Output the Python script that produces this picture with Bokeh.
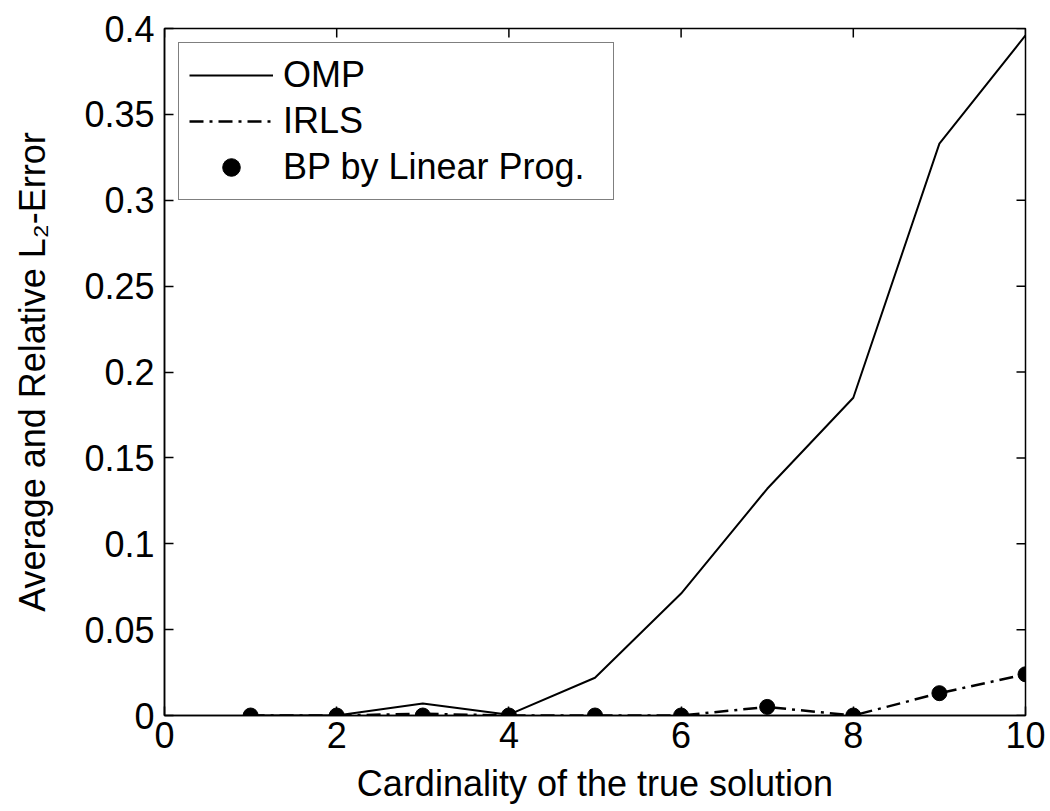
from bokeh.plotting import figure
from bokeh.models import FixedTicker, CustomJSTickFormatter, Range1d, Legend, LegendItem
from bokeh.embed import file_html
from bokeh.resources import INLINE

cardinality = [1, 2, 3, 4, 5, 6, 7, 8, 9, 10]
omp = [0.0, 0.0, 0.007, 0.0005, 0.022, 0.071, 0.132, 0.185, 0.333, 0.396]
irls = [0.0, 0.0, 0.001, 0.0, 0.0, 0.0, 0.005, 0.0, 0.013, 0.024]
bp = [0.0, 0.0, 0.0, 0.0, 0.0, 0.0, 0.005, 0.0, 0.013, 0.024]
x_ticks = [0, 2, 4, 6, 8, 10]
y_ticks = [0, 0.05, 0.1, 0.15, 0.2, 0.25, 0.3, 0.35, 0.4]

FONT = "Liberation Sans"
FS = "36px"
W, H = 1050, 811
BL, BR, BT, BB = 164, 25, 28, 96
X0, X1, Y0, Y1 = 0, 10, 0, 0.4
TICK = 9

p = figure(width=W, height=H, output_backend="svg", toolbar_location=None,
           x_range=Range1d(X0, X1), y_range=Range1d(Y0, Y1),
           min_border_left=BL, min_border_right=BR, min_border_top=BT, min_border_bottom=BB)
p.xgrid.visible = False
p.ygrid.visible = False
p.outline_line_color = "black"
p.outline_line_width = 1.5
p.background_fill_color = "white"
p.border_fill_color = "white"

fmt = CustomJSTickFormatter(code="var s = tick.toFixed(2); s = s.replace(/0+$/, ''); s = s.replace(/\\.$/, ''); return s;")

for ax in p.xaxis:
    ax.ticker = FixedTicker(ticks=x_ticks)
    ax.axis_label = "Cardinality of the true solution"
for ax in p.yaxis:
    ax.ticker = FixedTicker(ticks=y_ticks)
    ax.formatter = fmt
    ax.axis_label = "Average and Relative L\u2082-Error"

for ax in list(p.xaxis) + list(p.yaxis):
    ax.major_tick_in = TICK
    ax.major_tick_out = 0
    ax.minor_tick_in = 0
    ax.minor_tick_out = 0
    ax.axis_line_color = "black"
    ax.axis_line_width = 1.5
    ax.major_tick_line_width = 1.5
    ax.major_label_text_font = FONT
    ax.major_label_text_font_size = FS
    ax.major_label_text_color = "black"
    ax.axis_label_text_font = FONT
    ax.axis_label_text_font_size = FS
    ax.axis_label_text_font_style = "normal"
    ax.axis_label_text_color = "black"

p.xaxis.major_label_standoff = 6
p.xaxis.axis_label_standoff = 12
p.yaxis.major_label_standoff = 10
p.yaxis.axis_label_standoff = 28

# inward ticks on the top and right edges of the box
fw = W - BL - BR
fh = H - BT - BB
dy = TICK * (Y1 - Y0) / fh
dx = TICK * (X1 - X0) / fw
p.segment(x0=x_ticks, y0=[Y1] * len(x_ticks), x1=x_ticks, y1=[Y1 - dy] * len(x_ticks),
          line_color="black", line_width=1.5)
p.segment(x0=[X1] * len(y_ticks), y0=y_ticks, x1=[X1 - dx] * len(y_ticks), y1=y_ticks,
          line_color="black", line_width=1.5)

r_omp = p.line(cardinality, omp, line_color="black", line_width=2)
r_irls = p.line(cardinality, irls, line_color="black", line_width=2.5, line_dash="14 6 3 6")
r_bp = p.scatter(cardinality, bp, marker="circle", size=15, fill_color="black", line_color="black")

legend = Legend(items=[LegendItem(label="OMP", renderers=[r_omp]),
                       LegendItem(label="IRLS", renderers=[r_irls]),
                       LegendItem(label="BP by Linear Prog.", renderers=[r_bp])],
                location="top_left")
legend.label_text_font = FONT
legend.label_text_font_size = FS
legend.label_text_color = "black"
legend.glyph_width = 84
legend.glyph_height = 44
legend.label_height = 44
legend.label_width = 320
legend.spacing = 2
legend.padding = 10
legend.margin = 14
legend.label_standoff = 10
legend.border_line_color = "black"
legend.border_line_width = 1.5
legend.background_fill_alpha = 1
p.add_layout(legend)

open("out.html", "w").write(file_html(p, INLINE))
